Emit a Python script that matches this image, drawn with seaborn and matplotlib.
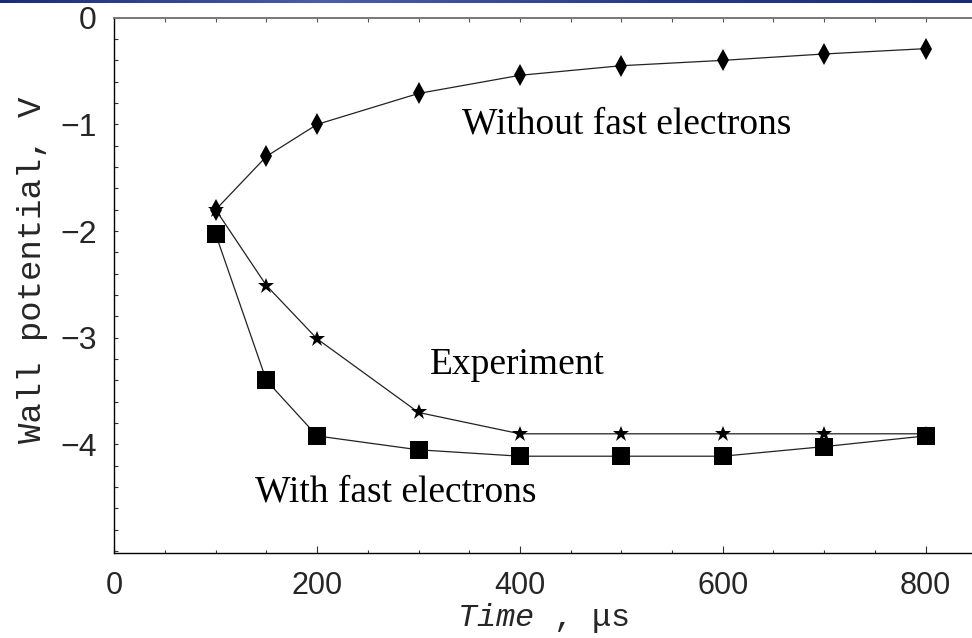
import numpy as np
import pandas as pd
import matplotlib
matplotlib.use("Agg")
import matplotlib.pyplot as plt
import seaborn as sns
from matplotlib.ticker import MultipleLocator
from matplotlib.colors import LinearSegmentedColormap

# ---- data ----
time_us = [100, 150, 200, 300, 400, 500, 600, 700, 800]
without_fast = [-1.80, -1.30, -1.00, -0.71, -0.54, -0.45, -0.40, -0.34, -0.29]
experiment = [-1.80, -2.51, -3.01, -3.70, -3.90, -3.90, -3.90, -3.90, -3.90]
with_fast = [-2.03, -3.40, -3.92, -4.05, -4.11, -4.11, -4.11, -4.02, -3.92]

x_ticks = [0, 200, 400, 600, 800]
y_ticks = [0, -1, -2, -3, -4]
x_label_plain = "Time"
x_label_unit = " , μs"
y_label = "Wall potential, V"
ann_without = "Without fast electrons"
ann_experiment = "Experiment"
ann_with = "With fast electrons"

sns.set_theme(style="white")
plt.rcParams["font.family"] = ["Liberation Sans", "DejaVu Sans"]
plt.rcParams["mathtext.fontset"] = "custom"
plt.rcParams["mathtext.it"] = "Liberation Mono:italic"
plt.rcParams["mathtext.rm"] = "Liberation Mono"
plt.rcParams["axes.unicode_minus"] = True

W, H = 972, 638
fig = plt.figure(figsize=(W / 100, H / 100), dpi=100)
fig.patch.set_facecolor("white")

left_px, bottom_px, top_px = 114.3, 553.3, 17.7
ax = fig.add_axes([left_px / W, 1 - bottom_px / H, 1 - left_px / W, (bottom_px - top_px) / H])
ax.set_facecolor("white")

df = pd.DataFrame({"t": time_us, "wo": without_fast, "ex": experiment, "wf": with_fast})
line_kw = dict(color="#222222", linewidth=0.9, markeredgewidth=0, markerfacecolor="black")
sns.lineplot(data=df, x="t", y="wo", marker="d", markersize=11, ax=ax, **line_kw)
sns.lineplot(data=df, x="t", y="ex", marker="*", markersize=12, ax=ax, **line_kw)
sns.lineplot(data=df, x="t", y="wf", marker="s", markersize=13, ax=ax, **line_kw)

ax.set_xlim(0, (W - left_px) / 1.014)
ax.set_ylim(-5.02, 0)

ax.set_xticks(x_ticks)
ax.set_xticklabels([str(v) for v in x_ticks])
ax.xaxis.set_minor_locator(MultipleLocator(50))
ax.set_yticks(y_ticks)
ax.set_yticklabels([str(v).replace("-", "\u2212") for v in y_ticks])
ax.yaxis.set_minor_locator(MultipleLocator(0.2))

ax.tick_params(axis="x", which="major", direction="in", length=5, width=0.8,
               color="#333333", labelsize=22, pad=13, bottom=True, top=False)
ax.tick_params(axis="x", which="minor", direction="in", length=2.5, width=0.8,
               color="#333333", bottom=True, top=False)
ax.tick_params(axis="y", which="both", direction="in", length=3, width=0.8,
               color="#333333", left=True, right=False)
ax.tick_params(axis="y", which="major", labelsize=23, pad=12.5)

for side in ["left", "bottom"]:
    ax.spines[side].set_color("black")
    ax.spines[side].set_linewidth(1.0)
ax.spines["right"].set_visible(False)
ax.spines["top"].set_color("#777777")
ax.spines["top"].set_linewidth(1.4)

sec = ax.secondary_xaxis("top")
sec.set_xticks(np.arange(50, 850, 50))
sec.set_xticklabels([])
sec.tick_params(direction="in", length=3, width=0.8, color="#555555")
sec.spines["top"].set_visible(False)

ax.set_xlabel(r"$\mathit{" + x_label_plain + r"}$" + x_label_unit,
              fontsize=23, family="Liberation Mono", labelpad=0)
ax.set_ylabel(y_label, fontsize=24.5, family="Liberation Mono")
ax.yaxis.set_label_coords(-0.077, 0.53)

txt_kw = dict(fontsize=27, family="Liberation Serif", va="center", ha="left", color="black")
ax.text(343, -1.0, ann_without, **txt_kw)
ax.text(311, -3.25, ann_experiment, **txt_kw)
ax.text(139, -4.45, ann_with, **txt_kw)

# blue gradient bar at top of the slide image
bar = fig.add_axes([0, 1 - 3.5 / H, 1, 3.5 / H])
cmap = LinearSegmentedColormap.from_list("bar", ["#1c2a7a", "#4a5fa8", "#2a3a8a", "#1c2a7a"])
bar.imshow(np.linspace(0, 1, 256)[None, :], aspect="auto", cmap=cmap)
bar.axis("off")

fig.savefig("out.png", dpi=100)
